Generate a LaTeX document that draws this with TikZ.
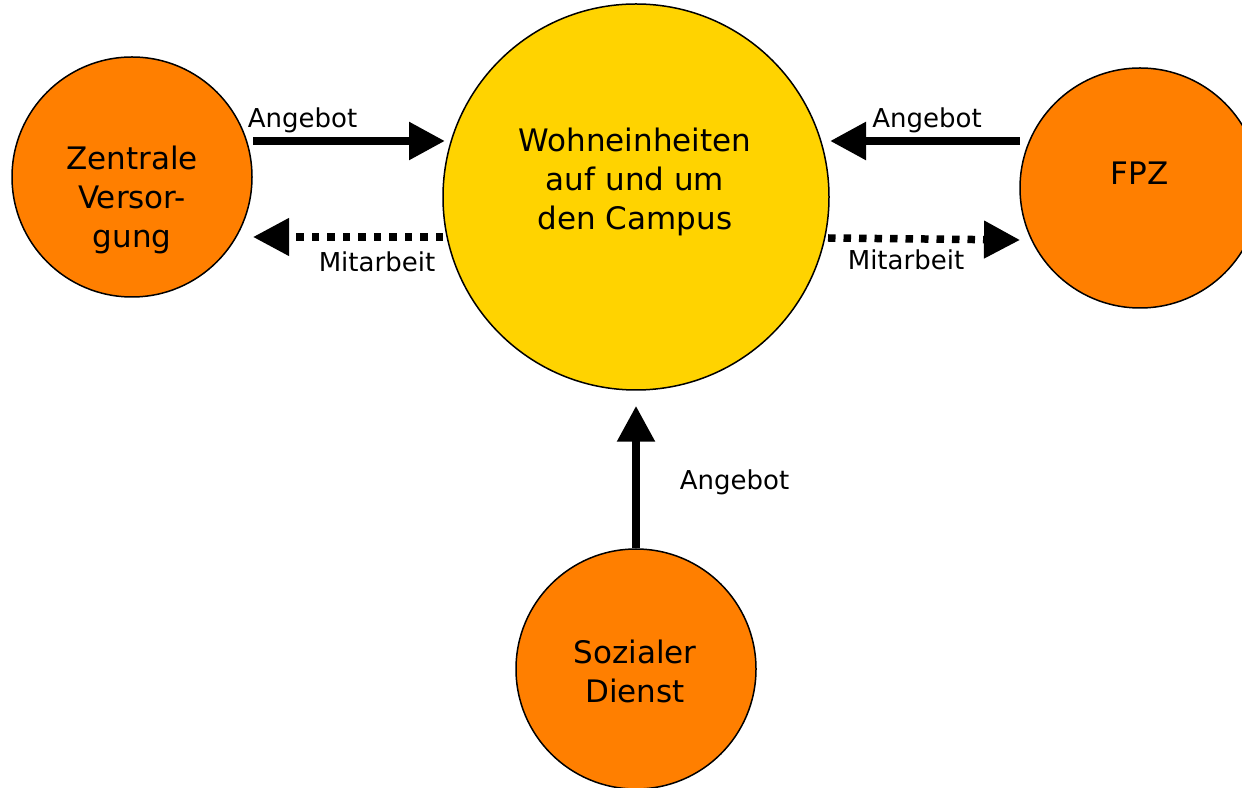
\documentclass[tikz,border=0pt]{standalone}
\usepackage{fontspec}
\setmainfont{DejaVu Sans}
\usetikzlibrary{arrows.meta,calc}
\definecolor{orangefill}{HTML}{FF7F00}
\definecolor{goldfill}{HTML}{FFD300}
\tikzset{
  bubble/.style={circle,draw=black,line width=1.5pt,inner sep=0pt,minimum size=#1},
  bigtext/.style={font=\fontsize{31}{39}\selectfont,align=center,inner sep=0pt},
  edgetext/.style={font=\fontsize{26}{30}\selectfont,inner sep=0pt,anchor=base},
  solidarrow/.style={line width=8.5pt,-{Triangle[length=36pt,width=36pt]}},
  dotarrow/.style={line width=7.5pt,dash pattern=on 7.5pt off 8pt,-{Triangle[length=36pt,width=36pt]}}
}
\begin{document}
\begin{tikzpicture}[x=1pt,y=1pt]
\useasboundingbox (0,0) rectangle (1242,787);
\clip (0,0) rectangle (1242,787);
% circles
\node[bubble=240pt,fill=orangefill] (L) at (132,610) {};
\node[bubble=386pt,fill=goldfill] (C) at (636,590) {};
\node[bubble=240pt,fill=orangefill] (R) at (1140,599) {};
\node[bubble=240pt,fill=orangefill] (S) at (636,118) {};
% circle texts
\node[bigtext] (Lt) at (132,587) {Zentrale\\Versor-\\gung};
\node[bigtext] (Ct) at (635,605.5) {Wohneinheiten\\auf und um\\den Campus};
\node[bigtext] (Rt) at (1139.5,614) {FPZ};
\node[bigtext] (St) at (635,115.3) {Sozialer\\Dienst};
% arrow end points
\coordinate (la1) at (253,646);
\coordinate (la2) at (445,646);
\coordinate (lm1) at (443,550);
\coordinate (lm2) at (253,550);
\coordinate (ra1) at (1020,646);
\coordinate (ra2) at (830,646);
\coordinate (rm1) at (828,549);
\coordinate (rm2) at (1020,547);
\coordinate (sa2) at ($(C.south)+(0,-15)$);
% arrows
\draw[solidarrow] (la1) -- (la2);
\draw[dotarrow] (lm1) -- (lm2);
\draw[solidarrow] (ra1) -- (ra2);
\draw[dotarrow] (rm1) -- (rm2);
\draw[solidarrow] (S.north) -- (sa2);
% labels
\node[edgetext] (l1) at (302.5,659) {Angebot};
\node[edgetext] (l2) at (377,515) {Mitarbeit};
\node[edgetext] (l3) at (927,659) {Angebot};
\node[edgetext] (l4) at (906,517) {Mitarbeit};
\node[edgetext] (l5) at (734.5,297) {Angebot};
\end{tikzpicture}
\end{document}
